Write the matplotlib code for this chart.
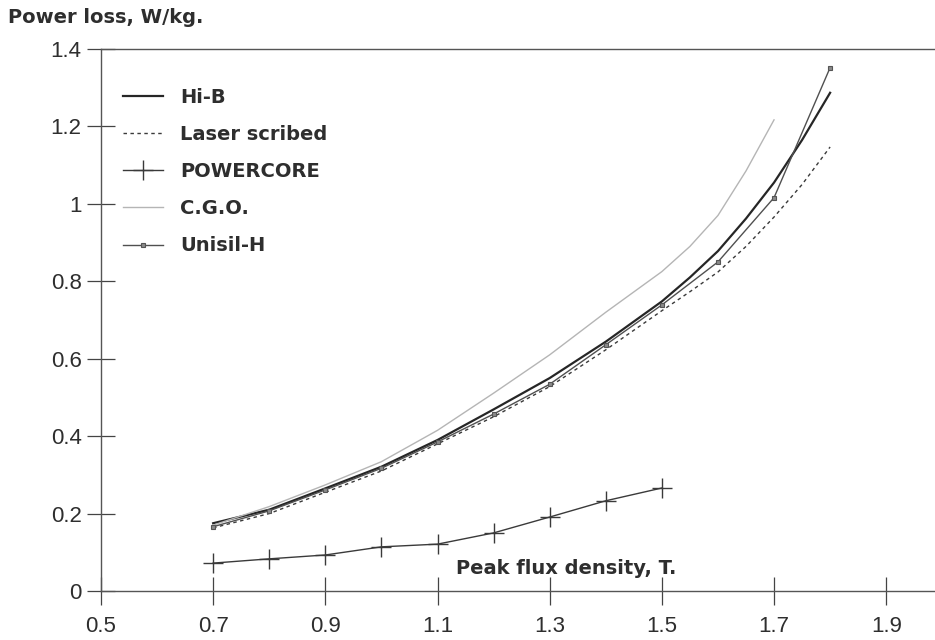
import matplotlib
matplotlib.use('Agg')
import matplotlib.pyplot as plt

# peak flux density, T
flux = [0.7, 0.8, 0.9, 1.0, 1.1, 1.2, 1.3, 1.4, 1.5, 1.55, 1.6, 1.65, 1.7, 1.75, 1.8]
flux_cgo = [0.7, 0.8, 0.9, 1.0, 1.1, 1.2, 1.3, 1.4, 1.5, 1.55, 1.6, 1.65, 1.7]
flux_unisil = [0.7, 0.8, 0.9, 1.0, 1.1, 1.2, 1.3, 1.4, 1.5, 1.6, 1.7, 1.8]
flux_powercore = [0.7, 0.8, 0.9, 1.0, 1.1, 1.2, 1.3, 1.4, 1.5]

# power loss, W/kg
hib = [0.175, 0.21, 0.265, 0.321, 0.39, 0.469, 0.55, 0.644, 0.748, 0.81, 0.878, 0.962, 1.055, 1.165, 1.287]
laser = [0.163, 0.2, 0.255, 0.31, 0.38, 0.45, 0.528, 0.623, 0.724, 0.773, 0.824, 0.89, 0.966, 1.05, 1.147]
cgo = [0.17, 0.218, 0.274, 0.334, 0.415, 0.511, 0.61, 0.72, 0.825, 0.89, 0.97, 1.085, 1.217]
unisil = [0.166, 0.207, 0.261, 0.317, 0.385, 0.457, 0.534, 0.636, 0.739, 0.85, 1.016, 1.352]
powercore = [0.072, 0.083, 0.093, 0.114, 0.121, 0.150, 0.191, 0.233, 0.266]

x_ticks = [0.5, 0.7, 0.9, 1.1, 1.3, 1.5, 1.7, 1.9]
x_tick_labels = ['0.5', '0.7', '0.9', '1.1', '1.3', '1.5', '1.7', '1.9']
y_ticks = [0, 0.2, 0.4, 0.6, 0.8, 1.0, 1.2, 1.4]
y_tick_labels = ['0', '0.2', '0.4', '0.6', '0.8', '1', '1.2', '1.4']

INK = '#2e2e2e'
TEXT_FONT = dict(family='DejaVu Sans', weight='bold', size=14, color=INK)
TICK_FONT = dict(family='Liberation Sans', size=16, color=INK)

fig = plt.figure(figsize=(9.35, 6.4), dpi=100)
ax = fig.add_axes([0.108, 0.0766, 0.892, 0.8468])

ax.plot(flux, hib, color='#262626', lw=1.6, label='Hi-B')
ax.plot(flux, laser, color='#3a3a3a', lw=1.0, ls=(0, (2.5, 2.5)), label='Laser scribed')
ax.plot(flux_powercore, powercore, color='#3a3a3a', lw=1.0, marker='+',
        markersize=15, markeredgewidth=1.0, label='POWERCORE')
ax.plot(flux_cgo, cgo, color='#b5b5b5', lw=1.0, label='C.G.O.')
ax.plot(flux_unisil, unisil, color='#505050', lw=1.0, marker='s', markersize=3.5,
        markerfacecolor='#8a8a8a', markeredgecolor='#555555', markeredgewidth=0.8,
        label='Unisil-H')

ax.set_xlim(0.5, 1.987)
ax.set_ylim(0, 1.4)
ax.set_xticks(x_ticks)
ax.set_xticklabels(x_tick_labels, **TICK_FONT)
ax.set_yticks(y_ticks)
ax.set_yticklabels(y_tick_labels, **TICK_FONT)

for side in ['left', 'top', 'bottom']:
    ax.spines[side].set_color('#555555')
    ax.spines[side].set_linewidth(1.0)
ax.spines['right'].set_visible(False)

ax.tick_params(axis='both', direction='inout', length=20, width=0.9, color='#444444')
ax.tick_params(axis='x', pad=8)
ax.tick_params(axis='y', pad=4)

leg = ax.legend(loc='upper left', bbox_to_anchor=(0.026, 0.928), frameon=False,
                borderpad=0, borderaxespad=0, handlelength=2.05, handletextpad=0.9,
                labelspacing=0.93, prop=dict(family='DejaVu Sans', weight='bold', size=14))
for t in leg.get_texts():
    t.set_color(INK)

ax.text(1.33, 0.059, 'Peak flux density, T.', ha='center', va='center', **TEXT_FONT)
fig.text(0.009, 0.972, 'Power loss, W/kg.', ha='left', va='center', **TEXT_FONT)

fig.savefig('out.png', dpi=100)
